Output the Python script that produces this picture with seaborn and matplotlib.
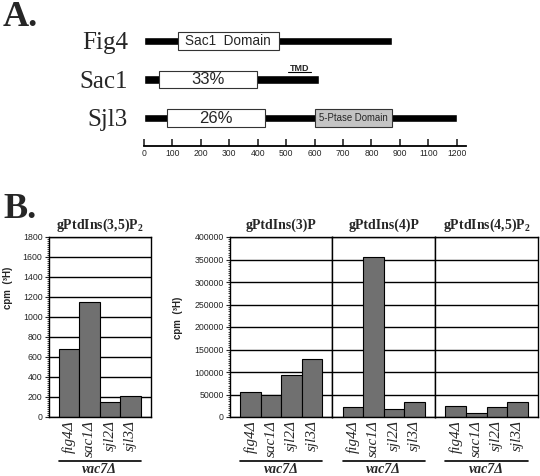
import matplotlib
matplotlib.use("Agg")
import matplotlib.pyplot as plt
import matplotlib.transforms as mtransforms
from matplotlib.ticker import MultipleLocator, AutoMinorLocator
import seaborn as sns

# ------------------------------
# Data
# ------------------------------

# A. domain maps (amino acid positions)
proteins = ["Fig4", "Sac1", "Sjl3"]
protein_length = [872, 614, 1102]
sac1_start = [118, 54, 80]
sac1_end = [475, 398, 426]
sac1_label = ["Sac1  Domain", "33%", "26%"]
ptase_start = 600
ptase_end = 871
tmd_start = 508
tmd_end = 587
scale_ticks = [0, 100, 200, 300, 400, 500, 600, 700, 800, 900, 1000, 1100]
scale_labels = ["0", "100", "200", "300", "400", "500", "600", "700",
                "800", "900", "1100", "1200"]

# B. lipid counts, cpm (3H)
genotypes = ["fig4Δ", "sac1Δ", "sjl2Δ", "sjl3Δ"]
pi35p2 = [683, 1147, 150, 210]
pi3p = [56500, 49800, 93000, 128600]
pi4p = [21600, 355000, 18600, 33500]
pi45p2 = [25000, 8000, 22000, 32700]

# ------------------------------
# Style
# ------------------------------
sns.set_style("white")
plt.rcParams["font.family"] = ["Liberation Sans", "DejaVu Sans"]
plt.rcParams["mathtext.fontset"] = "custom"
plt.rcParams["mathtext.rm"] = "Liberation Serif"
plt.rcParams["mathtext.bf"] = "Liberation Serif:bold"
plt.rcParams["mathtext.it"] = "Liberation Serif:italic"

W, H = 540, 476
BAR_GREY = "#707070"
SERIF = ["Liberation Serif", "DejaVu Serif"]


def px_box(left, top, right, bottom):
    return [left / W, 1 - bottom / H, (right - left) / W, (bottom - top) / H]


fig = plt.figure(figsize=(W / 100, H / 100), dpi=100)

# ------------------------------
# A. Domain maps
# ------------------------------
px_per_aa = 0.2843
ax_top = fig.add_axes(px_box(0, 0, W, 170))
ax_top.set_xlim(-144 / px_per_aa, (W - 144) / px_per_aa)
ax_top.set_ylim(3.347, -1.057)
ax_top.axis("off")

rows = range(len(proteins))
ax_top.barh(rows, protein_length, height=0.215, color="black")
ax_top.barh(rows, [e - s for s, e in zip(sac1_start, sac1_end)],
            left=sac1_start, height=0.456, color="white",
            edgecolor="#333333", linewidth=0.8)
ax_top.barh(2, ptase_end - ptase_start, left=ptase_start, height=0.456,
            color="#c4c4c4", edgecolor="#333333", linewidth=0.8)

label_sizes = [9.8, 12, 12]
for i, name in enumerate(proteins):
    ax_top.text(-56, i + 0.21, name, ha="right", va="baseline",
                fontsize=18, family=SERIF)
    ax_top.text((sac1_start[i] + sac1_end[i]) / 2, i, sac1_label[i],
                ha="center", va="center", fontsize=label_sizes[i])
ax_top.text((ptase_start + ptase_end) / 2, 2, "5-Ptase Domain",
            ha="center", va="center", fontsize=6.9)

# TMD marker on Sac1
ax_top.text((tmd_start + tmd_end) / 2, 1 - 0.285, "TMD", ha="center",
            va="center", fontsize=6.5, fontweight="bold")
ax_top.plot([tmd_start, tmd_end], [1 - 0.19, 1 - 0.19], color="black",
            linewidth=0.8)

# amino acid scale
ax_scale = fig.add_axes(px_box(144, 136, 466, 146))
ax_scale.set_xlim(0, (466 - 144) / px_per_aa)
ax_scale.patch.set_visible(False)
for side in ["top", "left", "right"]:
    ax_scale.spines[side].set_visible(False)
ax_scale.spines["bottom"].set_linewidth(1.3)
ax_scale.spines["bottom"].set_color("black")
ax_scale.set_yticks([])
ax_scale.set_xticks(scale_ticks, scale_labels)
ax_scale.tick_params(axis="x", direction="in", length=5, width=1.2,
                     labelsize=6.2, pad=2.5, bottom=True)

fig.text(3 / W, 1 - 26 / H, "A.", fontsize=26, fontweight="bold",
         family=SERIF, va="baseline")
fig.text(3 / W, 1 - 218.5 / H, "B.", fontsize=26, fontweight="bold",
         family=SERIF, va="baseline")

# ------------------------------
# B. Bar panels
# ------------------------------


def draw_panel(ax, values, title, ymax, step, show_y):
    sns.barplot(x=genotypes, y=values, ax=ax, color=BAR_GREY, saturation=1,
                width=1, edgecolor="black", linewidth=0.8, errorbar=None)
    ax.set_xlim(-1, len(genotypes))
    ax.set_ylim(0, ymax)
    ax.set_xlabel("")
    ax.set_ylabel("")
    ax.yaxis.set_major_locator(MultipleLocator(step))
    ax.yaxis.set_minor_locator(AutoMinorLocator(10))
    ax.grid(axis="y", which="major", color="black", linewidth=1)
    ax.set_axisbelow(True)
    for sp in ax.spines.values():
        sp.set_color("black")
        sp.set_linewidth(1)
    ax.tick_params(axis="x", length=0, pad=2, labelrotation=90)
    for lab in ax.get_xticklabels():
        lab.set_fontfamily(SERIF)
        lab.set_fontstyle("italic")
        lab.set_fontsize(11)
    if show_y:
        ax.tick_params(axis="y", which="major", left=True, length=3,
                       width=0.8, labelsize=6.3, pad=1.5)
        ax.tick_params(axis="y", which="minor", left=True, length=1.5,
                       width=0.6)
    else:
        ax.tick_params(axis="y", which="both", left=False, labelleft=False)
    ax.set_title(title, fontsize=10, fontweight="bold", family=SERIF, pad=6)

    # genotype background label
    trans = mtransforms.blended_transform_factory(ax.transData, ax.transAxes)
    ax.plot([-0.5, len(genotypes) - 0.5], [-0.242, -0.242], color="black",
            linewidth=1.2, transform=trans, clip_on=False)
    ax.text((len(genotypes) - 1) / 2, -0.29, "vac7Δ", transform=trans,
            ha="center", va="center", fontsize=10, fontweight="bold",
            fontstyle="italic", family=SERIF)


ax_b1 = fig.add_axes(px_box(48.7, 237, 150.7, 417))
draw_panel(ax_b1, pi35p2, r"gPtdIns(3,5)P$_\mathbf{2}$", 1800, 200, True)
ax_b1.set_ylabel("cpm  (³H)", fontsize=7, fontweight="bold")
ax_b1.yaxis.set_label_coords(-0.35, 0.72)

right_titles = ["gPtdIns(3)P", "gPtdIns(4)P", r"gPtdIns(4,5)P$_\mathbf{2}$"]
right_values = [pi3p, pi4p, pi45p2]
edges = [230, 332.3, 435, 538]
for k in range(3):
    ax = fig.add_axes(px_box(edges[k], 237, edges[k + 1], 417))
    draw_panel(ax, right_values[k], right_titles[k], 400000, 50000, k == 0)
    if k == 0:
        ax.set_ylabel("cpm  (³H)", fontsize=7, fontweight="bold")
        ax.yaxis.set_label_coords(-0.46, 0.55)

fig.savefig("out.png", dpi=100)
